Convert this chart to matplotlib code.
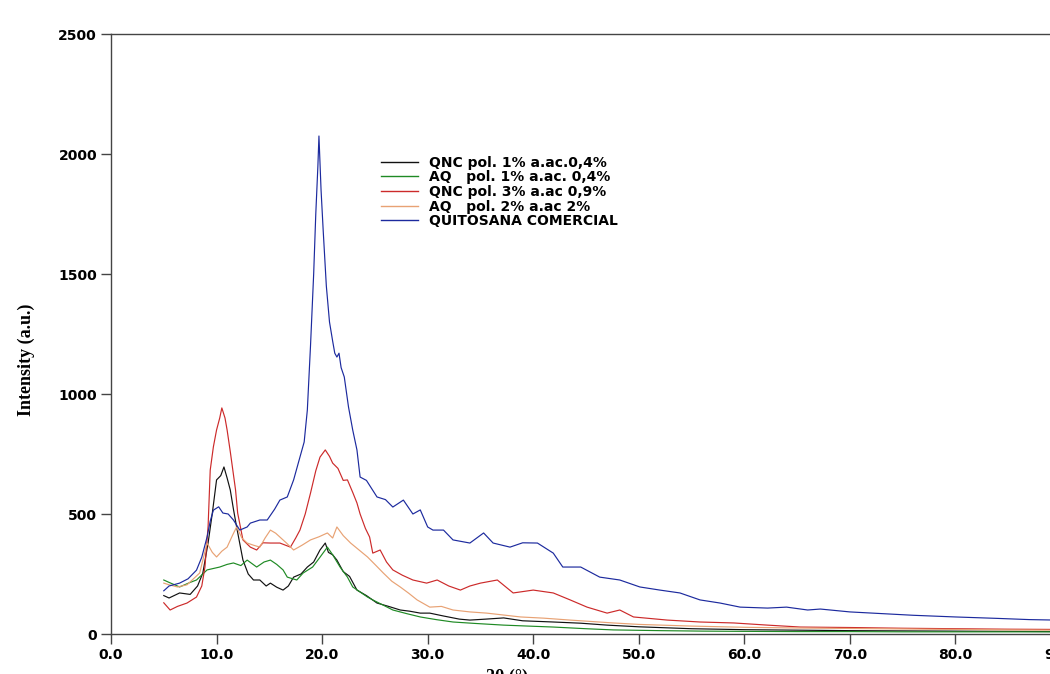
import matplotlib
matplotlib.use("Agg")
import matplotlib.pyplot as plt

# values (2theta in degrees, intensity in a.u.)
qnc1_x = [5.0, 5.5, 6.5, 7.5, 8.2, 8.7, 9.2, 9.6, 10.0, 10.4,
          10.7, 11.0, 11.3, 11.6, 11.9, 12.5, 13.0, 13.5, 14.1, 14.7,
          15.1, 15.7, 16.3, 16.8, 17.3, 18.0, 18.6, 19.2, 19.8, 20.3,
          20.6, 21.0, 21.4, 22.0, 22.6, 23.3, 24.2, 25.2, 26.3, 27.4,
          28.3, 29.3, 30.2, 31.5, 33.0, 34.0, 35.5, 37.2, 39.0, 41.9,
          44.5, 47.0, 50, 55, 60, 65, 70, 75, 80, 85, 89.5]
qnc1_y = [160, 150, 171, 165, 200, 254, 380, 504, 642, 660,
          696, 650, 600, 520, 446, 308, 250, 225, 225, 200,
          212, 195, 183, 200, 237, 250, 279, 300, 350, 379,
          340, 330, 308, 260, 240, 183, 160, 129, 115, 100,
          95, 87, 87, 75, 62, 58, 62, 67, 55, 50,
          45, 37, 30, 22, 18, 16, 14, 13, 12, 11, 10]

aq1_x = [5.0, 5.5, 6.5, 7.5, 8.1, 9.1, 10.3, 11.0, 11.6, 12.3,
         12.9, 13.8, 14.5, 15.1, 15.7, 16.3, 16.7, 17.6, 18.2, 19.1,
         19.8, 20.5, 21.0, 21.7, 22.4, 22.9, 23.6, 24.3, 24.8, 25.8,
         26.7, 28.0, 29.3, 30.8, 32.4, 34.5, 37.2, 39.5, 41.9, 45.0,
         47.6, 52, 56, 60, 65, 70, 75, 80, 85, 89.5]
aq1_y = [225, 215, 196, 215, 225, 267, 279, 290, 296, 285,
         308, 279, 300, 308, 290, 267, 237, 225, 254, 279,
         320, 362, 330, 279, 237, 196, 175, 154, 142, 120,
         100, 85, 71, 60, 50, 44, 37, 33, 29, 22,
         17, 14, 12, 11, 10, 10, 9, 9, 9, 9]

qnc3_x = [5.0, 5.6, 6.3, 7.2, 8.1, 8.6, 8.9, 9.2, 9.4, 9.7,
          10.0, 10.3, 10.5, 10.8, 11.0, 11.3, 11.5, 11.8, 12.0, 12.5,
          13.2, 13.8, 14.4, 15.1, 16.0, 17.0, 17.5, 17.9, 18.4, 18.9,
          19.4, 19.8, 20.3, 20.7, 21.0, 21.5, 22.0, 22.4, 22.9, 23.3,
          23.6, 24.1, 24.5, 24.8, 25.5, 26.1, 26.7, 27.6, 28.6, 29.9,
          30.9, 32.0, 33.1, 34.0, 35.0, 36.6, 38.1, 40.0, 41.9, 43.5,
          45.1, 47.0, 48.2, 49.5, 52.7, 55.8, 59.0, 62.2, 65.3, 70,
          75, 80, 85, 89.5]
qnc3_y = [130, 100, 115, 129, 154, 200, 279, 450, 683, 780,
          850, 900, 942, 900, 850, 760, 696, 600, 504, 392,
          362, 350, 380, 379, 379, 362, 400, 433, 500, 587,
          680, 737, 767, 740, 712, 690, 640, 642, 590, 546,
          500, 440, 404, 337, 350, 300, 267, 245, 225, 212,
          225, 200, 183, 200, 212, 225, 171, 183, 171, 142,
          112, 87, 100, 71, 58, 50, 46, 37, 29, 27,
          24, 22, 20, 19]

aq2_x = [5.0, 5.5, 6.3, 7.2, 8.4, 9.1, 9.6, 10.0, 10.5, 11.0,
         11.5, 11.9, 12.4, 12.9, 13.5, 14.1, 14.6, 15.1, 15.6, 16.0,
         16.6, 17.3, 18.1, 18.9, 19.7, 20.5, 21.0, 21.4, 22.0, 22.7,
         23.5, 24.3, 25.0, 25.8, 26.6, 27.4, 28.2, 29.0, 30.2, 31.3,
         32.4, 34.0, 35.6, 38.8, 41.0, 43.5, 47.6, 50, 55, 60,
         65, 70, 75, 80, 85, 89.5]
aq2_y = [212, 205, 196, 205, 254, 379, 340, 321, 345, 362,
         410, 446, 400, 379, 370, 362, 400, 433, 420, 404,
         380, 350, 370, 392, 405, 421, 400, 446, 410, 379,
         350, 321, 290, 254, 220, 196, 170, 142, 112, 115,
         100, 92, 87, 71, 66, 58, 46, 40, 33, 28,
         25, 23, 21, 19, 17, 16]

qc_x = [5.0, 5.5, 6.5, 7.3, 8.1, 8.6, 9.1, 9.4, 9.7, 10.2,
        10.6, 11.1, 11.6, 12.2, 12.9, 13.2, 14.1, 14.8, 15.5, 16.0,
        16.7, 17.3, 17.9, 18.3, 18.6, 18.9, 19.2, 19.4, 19.6, 19.7,
        19.9, 20.1, 20.4, 20.7, 21.0, 21.2, 21.4, 21.6, 21.8, 22.1,
        22.5, 22.9, 23.3, 23.6, 24.2, 25.2, 26.0, 26.7, 27.7, 28.6,
        29.3, 30.0, 30.5, 31.5, 32.4, 34.0, 35.3, 36.2, 37.8, 39.0,
        40.4, 41.9, 42.8, 44.5, 46.3, 48.2, 50.1, 52.0, 53.9, 55.8,
        57.7, 59.6, 62.2, 64.0, 66.0, 67.2, 70, 73, 76, 80,
        84, 87, 89.5]
qc_y = [180, 200, 212, 230, 266, 320, 404, 470, 516, 530,
        504, 500, 475, 433, 446, 462, 475, 475, 520, 558,
        571, 642, 737, 800, 933, 1200, 1500, 1750, 1950, 2075,
        1850, 1683, 1450, 1300, 1220, 1170, 1154, 1170, 1110, 1071,
        946, 850, 767, 654, 640, 571, 560, 529, 558, 500,
        517, 446, 433, 433, 392, 379, 421, 379, 362, 380,
        379, 337, 279, 279, 237, 225, 196, 183, 171, 142,
        129, 112, 108, 112, 100, 104, 92, 85, 78, 71,
        65, 60, 58]

labels = ["QNC pol. 1% a.ac.0,4%", "AQ   pol. 1% a.ac. 0,4%",
          "QNC pol. 3% a.ac 0,9%", "AQ   pol. 2% a.ac 2%",
          "QUITOSANA COMERCIAL"]
colors = ["#111111", "#1f8a24", "#cc2a2a", "#e8a274", "#1c2a9e"]

fig = plt.figure(figsize=(10.5, 6.74), dpi=100)
# axes runs a little past the right edge, like the cropped original
ax = fig.add_axes([111 / 1050, 40 / 674, 950 / 1050, 600 / 674])

series = [(qnc1_x, qnc1_y), (aq1_x, aq1_y), (qnc3_x, qnc3_y),
          (aq2_x, aq2_y), (qc_x, qc_y)]
for (xs, ys), lab, col in zip(series, labels, colors):
    ax.plot(xs, ys, color=col, lw=0.85, label=lab)

ax.set_xlim(0, 90)
ax.set_ylim(0, 2500)
ax.set_xticks(range(0, 100, 10))
ax.set_xticklabels([f"{v:.1f}" for v in range(0, 100, 10)])
ax.set_yticks(range(0, 2501, 500))

for s in ["left", "bottom", "top"]:
    ax.spines[s].set_color("#444444")
    ax.spines[s].set_linewidth(1.0)
ax.spines["right"].set_visible(False)
ax.tick_params(direction="out", length=7, width=1, color="#444444",
               labelsize=10, pad=3)
for t in ax.get_xticklabels() + ax.get_yticklabels():
    t.set_fontweight("bold")
    t.set_family("DejaVu Sans")

ax.set_ylabel("Intensity (a.u.)", family="Liberation Serif",
              fontweight="bold", fontsize=13)
ax.yaxis.set_label_coords(-0.08, 0.457)
ax.set_xlabel("2θ (°)", family="Liberation Serif", fontweight="bold",
              fontsize=13)
ax.xaxis.set_label_coords(0.417, -0.057)

leg = ax.legend(loc="upper left", bbox_to_anchor=(368 / 1050, 1 - 143 / 674),
                bbox_transform=fig.transFigure, frameon=False,
                handlelength=2.7, handletextpad=0.8, labelspacing=0.05,
                prop={"family": "DejaVu Sans", "weight": "bold", "size": 10})
for h in leg.get_lines():
    h.set_linewidth(1.0)

fig.savefig("out.png", dpi=100)
